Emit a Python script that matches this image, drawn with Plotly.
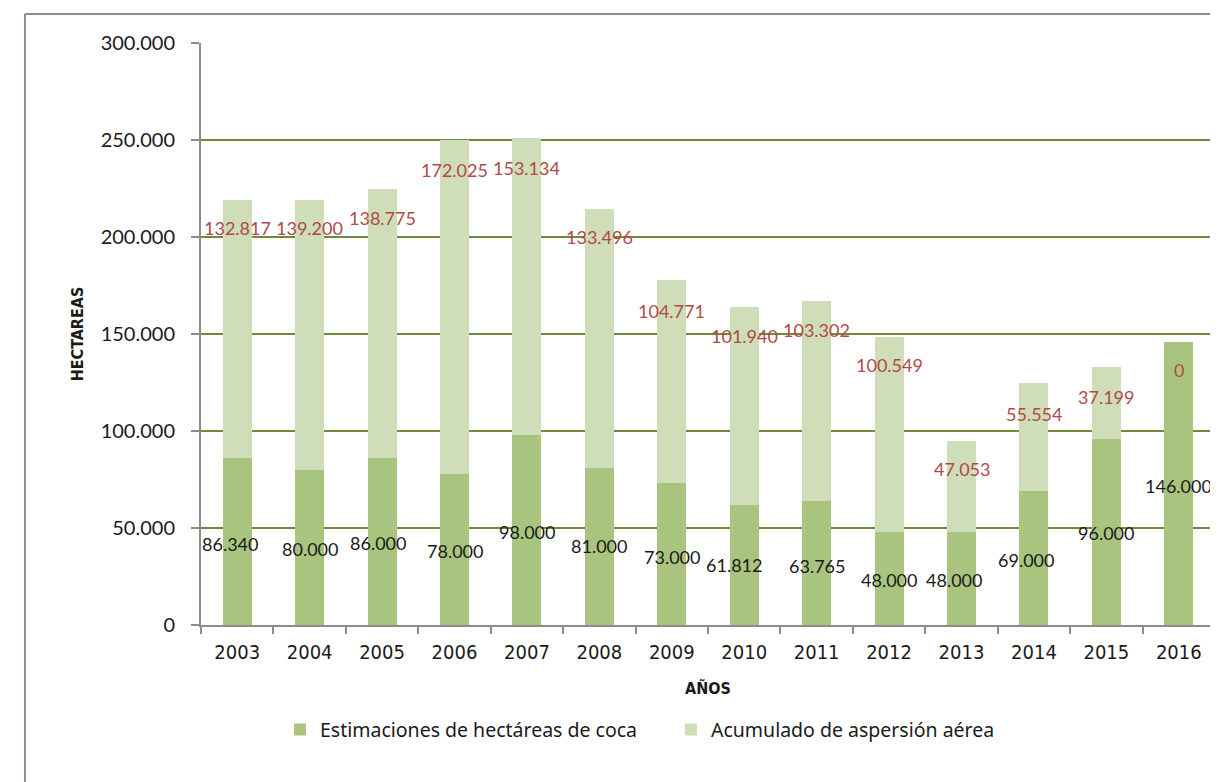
import plotly.graph_objects as go

years = ["2003", "2004", "2005", "2006", "2007", "2008", "2009", "2010",
         "2011", "2012", "2013", "2014", "2015", "2016"]
coca = [86340, 80000, 86000, 78000, 98000, 81000, 73000, 61812,
        63765, 48000, 48000, 69000, 96000, 146000]
aspersion = [132817, 139200, 138775, 172025, 153134, 133496, 104771, 101940,
             103302, 100549, 47053, 55554, 37199, 0]

# label placement (as in the original Excel export, labels float freely)
coca_label_y = [41800, 39200, 42300, 38100, 47900, 40700, 35000, 30900,
                30400, 23200, 23200, 33500, 47400, 71600]
coca_label_dx = [-7, 0, -4, 0, 0, 0, 0, -10, 0, 0, -8, -8, 0, 0]
asp_label_y = [204600, 204600, 209800, 234500, 235600, 200000, 161900, 149000,
               152000, 134000, 80400, 108800, 117500, 131400]
asp_label_dx = [0, 0, 0, 0, 0, 0, 0, 0, 0, 0, 0, 0, 0, 0]


def fmt(v):
    return f"{v:,}".replace(",", ".")


DARK = "#a9c47f"
LIGHT = "#cfddb8"
RED = "#b04a47"
GRID = "#6f8a3a"
AXIS = "#8c8c8c"
NARROW = "Liberation Sans Narrow, DejaVu Sans Condensed, sans-serif"

fig = go.Figure()
fig.add_bar(x=years, y=coca, name="Estimaciones de hectáreas de coca",
            marker=dict(color=DARK, line=dict(width=0)))
fig.add_bar(x=years, y=aspersion, name="Acumulado de aspersión aérea",
            marker=dict(color=LIGHT, line=dict(width=0)))

ann = []
for i, (v, ly, dx) in enumerate(zip(coca, coca_label_y, coca_label_dx)):
    ann.append(dict(x=i, y=ly, text=fmt(v), showarrow=False, xshift=dx,
                    font=dict(family="Lato, Open Sans, sans-serif", size=18, color="#1a1a1a")))
for i, (v, ly, dx) in enumerate(zip(aspersion, asp_label_y, asp_label_dx)):
    ann.append(dict(x=i, y=ly, text=fmt(v), showarrow=False, xshift=dx,
                    font=dict(family="Lato, Open Sans, sans-serif", size=18, color=RED)))

fig.update_layout(
    width=1210, height=774,
    barmode="stack", bargap=0.6,
    plot_bgcolor="white", paper_bgcolor="white",
    margin=dict(l=193, r=3, t=35, b=157, autoexpand=False),
    annotations=ann,
    showlegend=True,
    legend=dict(orientation="h", x=0.0779, xanchor="left", y=-0.18, yanchor="middle",
                font=dict(family="Noto Sans, sans-serif", size=19.5, color="#1a1a1a"),
                entrywidth=346, entrywidthmode="pixels", itemwidth=30,
                traceorder="normal"),
    shapes=[
        dict(type="line", xref="paper", yref="paper", x0=-0.1736, x1=-0.1736,
             y0=1.0498, y1=-0.6, line=dict(color="#8c8c8c", width=2)),
        dict(type="line", xref="paper", yref="paper", x0=-0.1736, x1=1.2,
             y0=1.0498, y1=1.0498, line=dict(color="#8c8c8c", width=2)),
    ],
)

fig.update_xaxes(
    type="category", range=[-0.5, 13.5], showgrid=False, showline=True, linecolor=AXIS, linewidth=2,
    ticks="outside", tickson="boundaries", ticklen=7, tickcolor=AXIS, tickwidth=2,
    tickangle=0, ticklabelstandoff=8,
    tickfont=dict(family=NARROW, size=20, color="#1a1a1a"),
    title=dict(text="<b>AÑOS</b>", standoff=20,
               font=dict(family=NARROW, size=16, color="#1a1a1a")),
)
fig.update_yaxes(
    range=[0, 300000], tickvals=[0, 50000, 100000, 150000, 200000, 250000, 300000],
    ticktext=["0", "50.000", "100.000", "150.000", "200.000", "250.000", "300.000"],
    showgrid=True, gridcolor=GRID, gridwidth=2, zeroline=False,
    showline=True, linecolor=AXIS, linewidth=2,
    ticks="outside", ticklen=8, tickcolor=AXIS, tickwidth=2,
    ticklabelstandoff=12,
    tickfont=dict(family="Lato, Open Sans, sans-serif", size=20, color="#1a1a1a"),
    title=dict(text="<b>HECTAREAS</b>", standoff=13,
               font=dict(family=NARROW, size=16, color="#1a1a1a")),
)

fig.write_html("out.html")
